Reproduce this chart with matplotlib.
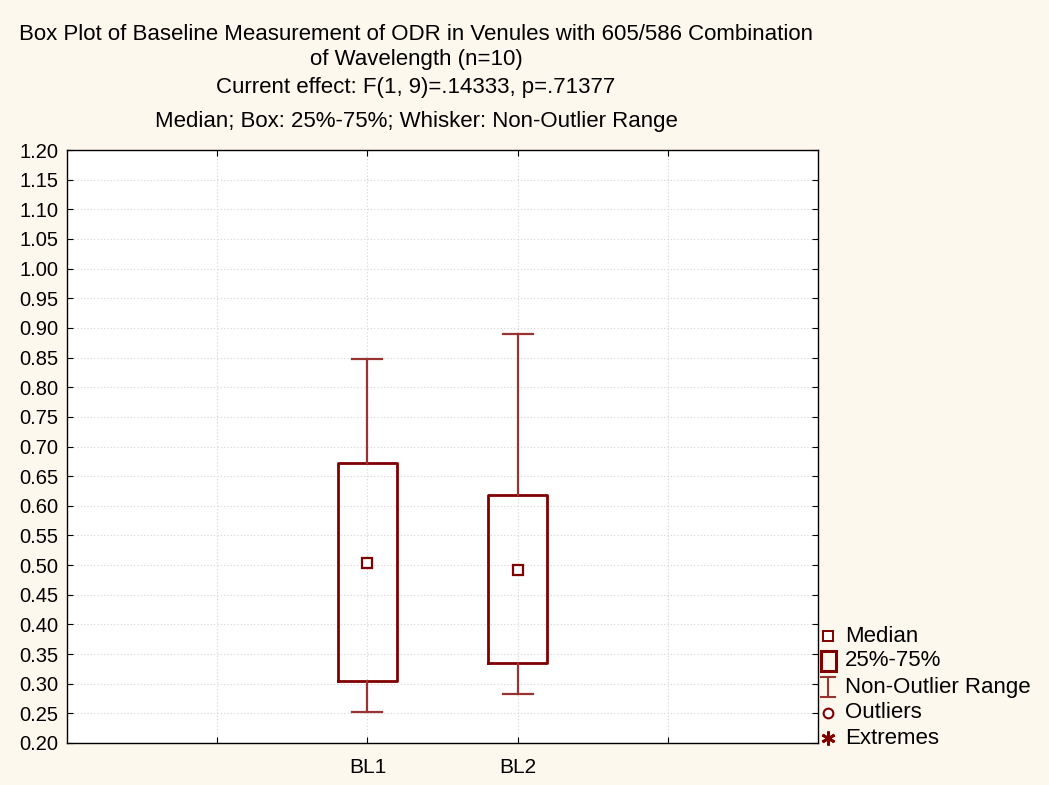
import matplotlib
matplotlib.use("Agg")
import matplotlib.pyplot as plt
from matplotlib.patches import Rectangle

plt.rcParams['font.family'] = ['Liberation Sans', 'DejaVu Sans']

# data
groups = ['BL1', 'BL2']
medians = [0.503, 0.492]
q1 = [0.305, 0.335]
q3 = [0.672, 0.618]
whis_lo = [0.252, 0.282]
whis_hi = [0.847, 0.890]
positions = [2, 3]

yticks = [round(0.20 + 0.05 * i, 2) for i in range(21)]
legend_labels = ['Median', '25%-75%', 'Non-Outlier Range', 'Outliers', 'Extremes']

dark = '#800000'
light = '#993333'
bg = '#fdf8ee'

fig = plt.figure(figsize=(10.49, 7.85), dpi=100, facecolor=bg)
ax = fig.add_axes([67/1049, 42/785, 751/1049, 593/785])
ax.set_facecolor('white')

stats = []
for i in range(len(groups)):
    stats.append({'med': medians[i], 'q1': q1[i], 'q3': q3[i],
                  'whislo': whis_lo[i], 'whishi': whis_hi[i], 'fliers': []})

ax.bxp(stats, positions=positions, widths=0.39, capwidths=0.2,
       showfliers=False, patch_artist=False,
       boxprops=dict(color=dark, linewidth=2),
       whiskerprops=dict(color=light, linewidth=1.6),
       capprops=dict(color=light, linewidth=1.6),
       medianprops=dict(linewidth=0))
ax.plot(positions, medians, 's', mfc='white', mec=dark, mew=1.6, ms=7.5, zorder=5)

ax.set_xlim(0, 5)
ax.set_ylim(0.20, 1.20)
ax.set_yticks(yticks)
ax.set_yticklabels(['%.2f' % v for v in yticks])
ax.set_xticks([1, 2, 3, 4])
ax.set_xticklabels(['', groups[0], groups[1], ''])
ax.tick_params(direction='in', top=True, right=True, labelsize=14.5, length=4,
               colors='black', pad=6)
ax.tick_params(axis='x', pad=11, labelsize=15)
ax.grid(True, linestyle=(0, (1, 2)), color='#d4d4d4', linewidth=0.8)
ax.set_axisbelow(True)
for s in ax.spines.values():
    s.set_linewidth(1.0)
    s.set_color('black')

# titles
title_x = 416/1049
fig.text(title_x, 1 - 34/785, 'Box Plot of Baseline Measurement of ODR in Venules with 605/586 Combination',
         ha='center', va='center', fontsize=16)
fig.text(title_x, 1 - 59/785, 'of Wavelength (n=10)', ha='center', va='center', fontsize=16)
fig.text(title_x, 1 - 87/785, 'Current effect: F(1, 9)=.14333, p=.71377',
         ha='center', va='center', fontsize=16)
fig.text(title_x, 1 - 121/785, 'Median; Box: 25%-75%; Whisker: Non-Outlier Range',
         ha='center', va='center', fontsize=16)

# legend drawn in pixel coordinates
lax = fig.add_axes([0, 0, 1, 1], facecolor='none')
lax.set_xlim(0, 1049)
lax.set_ylim(785, 0)
lax.axis('off')
ys = [636, 661, 687, 713, 738]
mx = 828
lax.plot(mx, ys[0], 's', mfc='white', mec=dark, mew=1.4, ms=7)
lax.add_patch(Rectangle((mx - 7.5, ys[1] - 10), 15, 20, fill=False, ec=dark, lw=2.2))
lax.plot([mx, mx], [ys[2] - 10, ys[2] + 10], color=light, lw=1.5)
lax.plot([mx - 7, mx + 7], [ys[2] - 10, ys[2] - 10], color=light, lw=1.5)
lax.plot([mx - 7, mx + 7], [ys[2] + 10, ys[2] + 10], color=light, lw=1.5)
lax.plot(mx, ys[3], 'o', mfc='white', mec=dark, mew=1.5, ms=7)
lax.plot(mx, ys[4], marker=(6, 2, 0), color=dark, mew=2, ms=10)
for y, lab in zip(ys, legend_labels):
    lax.text(845, y, lab, ha='left', va='center', fontsize=16)

fig.savefig('out.png', dpi=100, facecolor=bg)
